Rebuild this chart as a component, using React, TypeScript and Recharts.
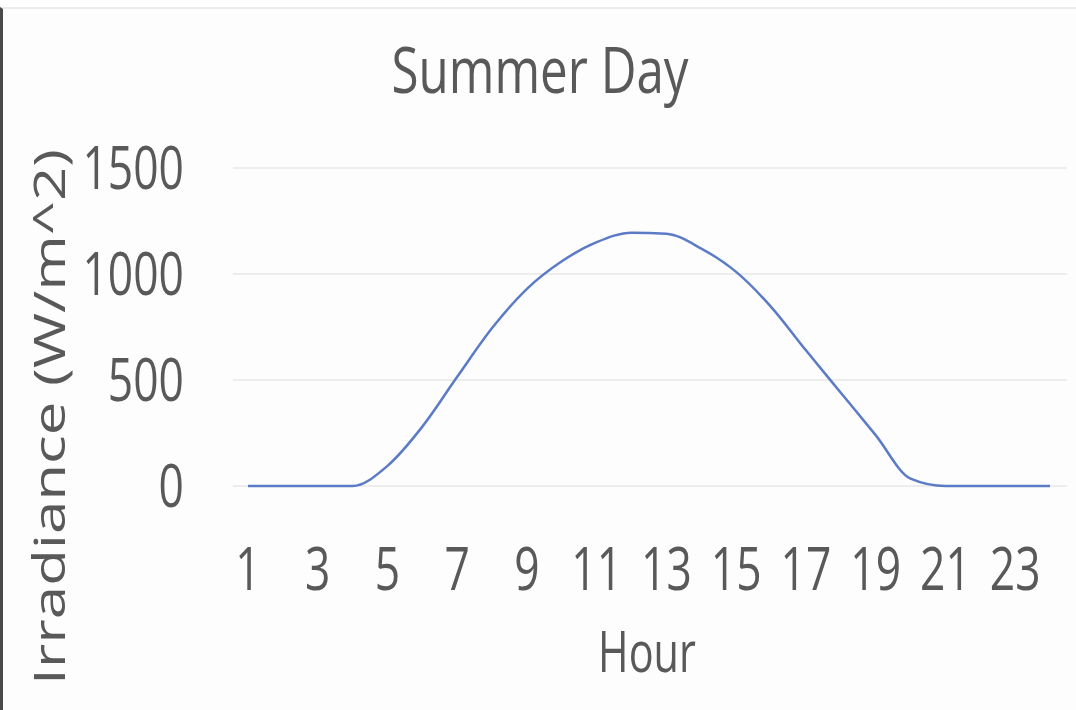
import { LineChart, Line, XAxis, YAxis, CartesianGrid } from 'recharts';

const hours = [
  '1', '2', '3', '4', '5', '6', '7', '8', '9', '10', '11', '12',
  '13', '14', '15', '16', '17', '18', '19', '20', '21', '22', '23', '24',
];
const irradiance = [
  0, 0, 0, 0, 95, 280, 515, 745, 930, 1060, 1150, 1195,
  1190, 1120, 1010, 845, 640, 440, 240, 35, 0, 0, 0, 0,
];
const yTicks = [0, 500, 1000, 1500];

const chartTitle = 'Summer Day';
const xTitle = 'Hour';
const yTitle = 'Irradiance (W/m^2)';

const FONT = '"Open Sans", "Noto Sans", sans-serif';
const TEXT = '#595959';
// the original text is squeezed sideways, so every label is drawn narrower
const SQUEEZE = 0.74;

const XTick = ({ x, y, payload }: any) => (
  <text
    transform={`translate(${x},${y + 104}) scale(${SQUEEZE},1)`}
    textAnchor="middle"
    fontFamily={FONT}
    fontSize={60}
    fill={TEXT}
  >
    {payload.value}
  </text>
);

const YTick = ({ x, y, payload }: any) => (
  <text
    transform={`translate(${x - 49},${y + 21}) scale(${SQUEEZE},1)`}
    textAnchor="end"
    fontFamily={FONT}
    fontSize={60}
    fill={TEXT}
  >
    {payload.value}
  </text>
);

const App = () => {
  const data = hours.map((h, i) => ({ hour: h, value: irradiance[i] }));

  return (
    <div
      style={{
        position: 'fixed',
        top: 0,
        left: 0,
        width: 1076,
        height: 710,
        background: '#ffffff',
        overflow: 'hidden',
      }}
    >
      <div
        style={{
          position: 'absolute',
          top: 7,
          left: 0,
          width: 1076,
          height: 703,
          background: '#fdfdfd',
          borderTop: '2px solid #ececec',
          borderLeft: '3px solid #4a4a4a',
          boxSizing: 'border-box',
        }}
      />
      <div style={{ position: 'absolute', top: 0, left: 0 }}>
        <LineChart
          width={1076}
          height={710}
          data={data}
          margin={{ top: 168, right: 9, bottom: 0, left: 0 }}
        >
          <CartesianGrid vertical={false} stroke="#ededed" strokeWidth={2} />
          <XAxis
            dataKey="hour"
            interval={1}
            height={224}
            padding={{ left: 15, right: 17 }}
            axisLine={false}
            tickLine={false}
            tickSize={0}
            tickMargin={0}
            tick={<XTick />}
          />
          <YAxis
            domain={[0, 1500]}
            ticks={yTicks}
            width={233}
            axisLine={false}
            tickLine={false}
            tickSize={0}
            tickMargin={0}
            tick={<YTick />}
          />
          <Line
            type="monotone"
            dataKey="value"
            stroke="#5b7bc6"
            strokeWidth={2.5}
            dot={false}
            isAnimationActive={false}
          />
        </LineChart>
      </div>
      <svg
        width={1076}
        height={710}
        style={{ position: 'absolute', top: 0, left: 0, pointerEvents: 'none' }}
      >
        <text
          transform={`translate(540,93) scale(0.77,1)`}
          textAnchor="middle"
          fontFamily={FONT}
          fontSize={64}
          fill={TEXT}
        >
          {chartTitle}
        </text>
        <text
          transform={`translate(647,672) scale(${SQUEEZE},1)`}
          textAnchor="middle"
          fontFamily={FONT}
          fontSize={56}
          fill={TEXT}
        >
          {xTitle}
        </text>
        <text
          transform={`translate(65,417) scale(${SQUEEZE},1) rotate(-90)`}
          textAnchor="middle"
          fontFamily={FONT}
          fontSize={60}
          fill={TEXT}
        >
          {yTitle}
        </text>
      </svg>
    </div>
  );
};

export default App;
